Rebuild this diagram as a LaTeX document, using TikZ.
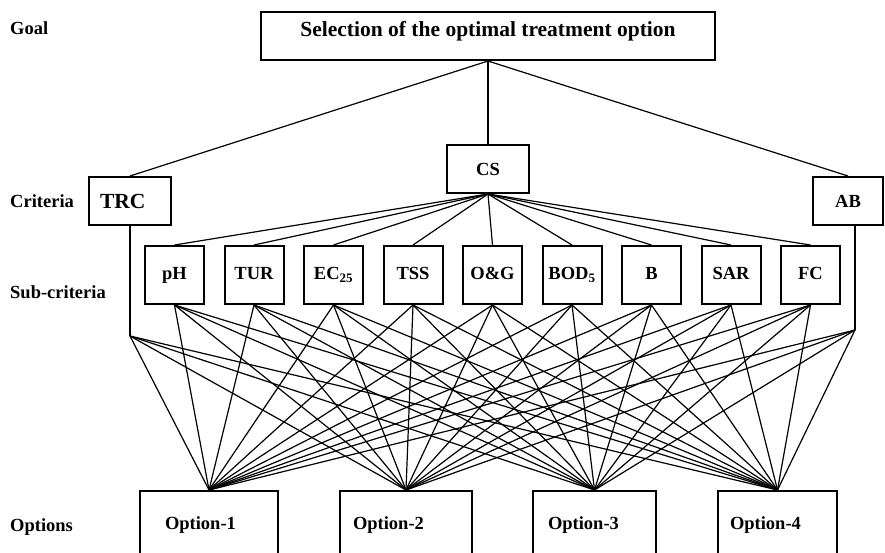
\documentclass[tikz,border=0pt]{standalone}
\usepackage{fontspec}
\setmainfont{Liberation Serif}
\begin{document}
\begin{tikzpicture}[x=1pt,y=-1pt,
  box/.style={draw, line width=2pt, rectangle, inner sep=0pt, font=\bfseries\fontsize{18.5}{22}\selectfont},
  bigfont/.style={font=\bfseries\fontsize{21.5}{25}\selectfont},
  subbox/.style={box, minimum width=59pt, minimum height=58pt, text height=13pt, text depth=4pt},
  lvl/.style={anchor=base west, inner sep=0pt, font=\bfseries\fontsize{18.5}{22}\selectfont},
  conn/.style={line width=1.2pt}]
\useasboundingbox (0,0) rectangle (885,552);

% level labels
\node[lvl] (lg) at (10,34) {Goal};
\node[lvl] (lc) at (10,207) {Criteria};
\node[lvl] (ls) at (10,298) {Sub-criteria};
\node[lvl] (lo) at (10,531) {Options};

% goal
\node[box, bigfont, minimum width=454pt, minimum height=48pt, text height=10pt, text depth=10pt] (goal) at (488,36) {Selection of the optimal treatment option};

% criteria
\node[box, minimum width=82pt, minimum height=48pt] (cs) at (488,169) {CS};
\node[box, bigfont, minimum height=48pt, inner xsep=11pt, text width=60pt, align=left] (trc) at (130,201) {TRC};
\node[box, minimum width=70pt, minimum height=48pt] (ab) at (848,201) {AB};

% sub-criteria
\foreach \t [count=\i] in {pH,TUR,EC\textsubscript{25},TSS,O\&G,BOD\textsubscript{5},B,SAR,FC}
  \node[subbox] (s\i) at ({174.5+79.5*(\i-1)},275) {\t};

% options
\node[box, minimum height=69pt, inner xsep=25pt, text width=88pt, align=left] (o1) at (209,525.5) {Option-1};
\node[box, minimum height=69pt, inner xsep=13pt, text width=106pt, align=left] (o2) at (406,525.5) {Option-2};
\node[box, minimum height=69pt, inner xsep=15pt, text width=93pt, align=left] (o3) at (594.5,525.5) {Option-3};
\node[box, minimum height=69pt, inner xsep=12pt, text width=95pt, align=left] (o4) at (777.5,525.5) {Option-4};

% junctions
\coordinate (trcj) at (130,336);
\coordinate (abj) at (855,330);

% connectors
\draw[conn] (goal.south) -- (trc.north);
\draw[conn] (goal.south) -- (cs.north);
\draw[conn] (goal.south) -- (ab.north);
\foreach \i in {1,...,9} \draw[conn] (cs.south) -- (s\i.north);
\draw[conn] (trc.south) -- (trcj);
\draw[conn] (ab.south -| abj) -- (abj);
\foreach \j in {1,...,4} {
  \draw[conn] (trcj) -- (o\j.north);
  \draw[conn] (abj) -- (o\j.north);
  \foreach \i in {1,...,9} \draw[conn] (s\i.south) -- (o\j.north);
}
\end{tikzpicture}
\end{document}
